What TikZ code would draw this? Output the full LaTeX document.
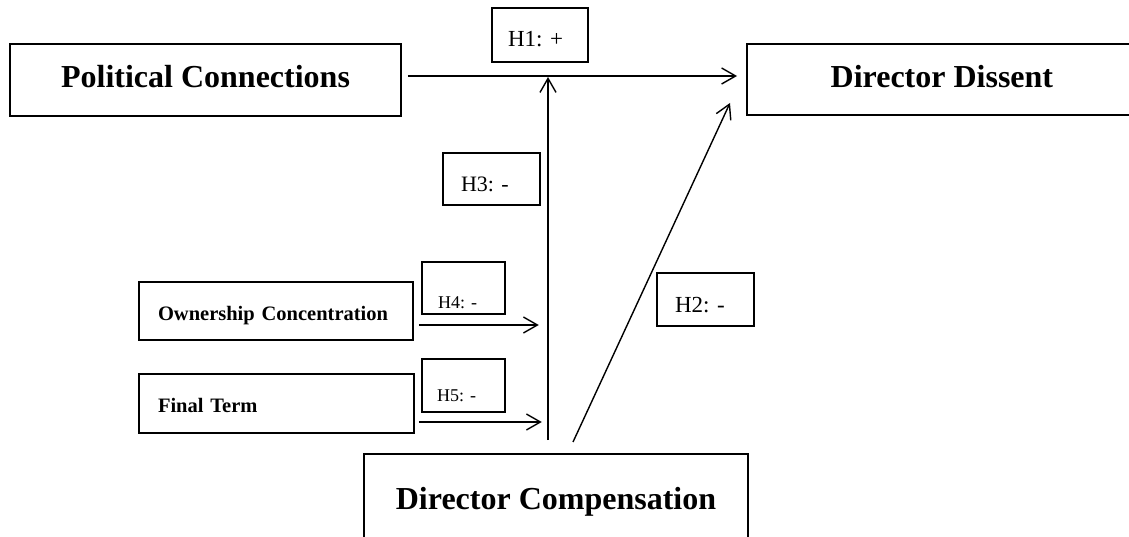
\documentclass[tikz,border=0pt]{standalone}
\usepackage{fontspec}
\setmainfont{Liberation Serif}
\usetikzlibrary{arrows.meta,calc}
\frenchspacing
\begin{document}
\begin{tikzpicture}[x=1pt,y=-1pt,
  mainbox/.style={draw, line width=1.8pt, inner sep=0pt,
    font=\fontsize{32}{38}\selectfont\bfseries, text height=22pt, text depth=6pt},
  sidebox/.style={draw, line width=1.6pt, inner ysep=0pt, align=left,
    font=\fontsize{20.5}{24}\selectfont\bfseries, text height=18pt, text depth=0pt},
  hypbox/.style={draw, line width=1.1pt, inner ysep=0pt, align=left},
  arr/.style={line width=1.4pt, -{Straight Barb[length=14pt,width=16pt]}}]
\useasboundingbox (0,0) rectangle (1129,537);
\fill[white] (0,0) rectangle (1129,537);

% main boxes
\node[mainbox, minimum width=391pt, minimum height=72pt] (pc) at (205.5,80) {Political Connections};
\node[mainbox, minimum width=390pt, minimum height=71pt, anchor=west] (dd) at (746,79.5) {Director Dissent};
\node[mainbox, minimum width=384pt, minimum height=100pt, anchor=north, text height=20pt, text depth=8pt] (dc) at (556,453) {Director Compensation};

% moderator boxes
\node[sidebox, text width=236pt, inner xsep=19pt, minimum height=58pt] (oc) at (276,311) {Ownership Concentration};
\node[sidebox, text width=237pt, inner xsep=19pt, minimum height=59pt] (ft) at (276.5,403.5) {Final Term};

% hypothesis labels
\node[hypbox, font=\fontsize{23}{27}\selectfont, minimum width=96pt, minimum height=54pt, inner xsep=16pt, text width=64pt, text height=24pt, text depth=0pt] (h1) at (540,35) {H1: +};
\node[hypbox, font=\fontsize{22}{26}\selectfont, minimum width=97pt, minimum height=52pt, inner xsep=18pt, text width=61pt, text height=26pt, text depth=0pt] (h3) at (491.5,179) {H3: -};
\node[hypbox, font=\fontsize{23}{27}\selectfont, minimum width=97pt, minimum height=53pt, inner xsep=18pt, text width=61pt, text height=25pt, text depth=0pt] (h2) at (705.5,299.5) {H2: -};
\node[hypbox, font=\fontsize{18}{22}\selectfont, minimum width=83pt, minimum height=52pt, inner xsep=16pt, text width=51pt, text height=40pt, text depth=0pt] (h4) at (463.5,288) {H4: -};
\node[hypbox, font=\fontsize{18}{22}\selectfont, minimum width=83pt, minimum height=53pt, inner xsep=15pt, text width=53pt, text height=32pt, text depth=0pt] (h5) at (463.5,385.5) {H5: -};

% connectors
\coordinate (vb) at ($(dc.north)+(-8,-13)$);
\coordinate (vt) at ([yshift=3pt]vb |- pc.east);
\coordinate (db) at ($(dc.north)+(17,-11)$);
\coordinate (dt) at ($(dd.west)+(-16,23.5)$);
\draw[arr] ([xshift=6pt,yshift=4pt]pc.east) -- ([xshift=-9pt,yshift=3.5pt]dd.west);
\draw[arr] (vb) -- (vt);
\draw[arr] (db) -- (dt);
\draw[arr] ([xshift=5pt,yshift=-14pt]oc.east) -- ++(120,0);
\draw[arr] ([xshift=4pt,yshift=-18.5pt]ft.east) -- ++(123,0);
\end{tikzpicture}
\end{document}
